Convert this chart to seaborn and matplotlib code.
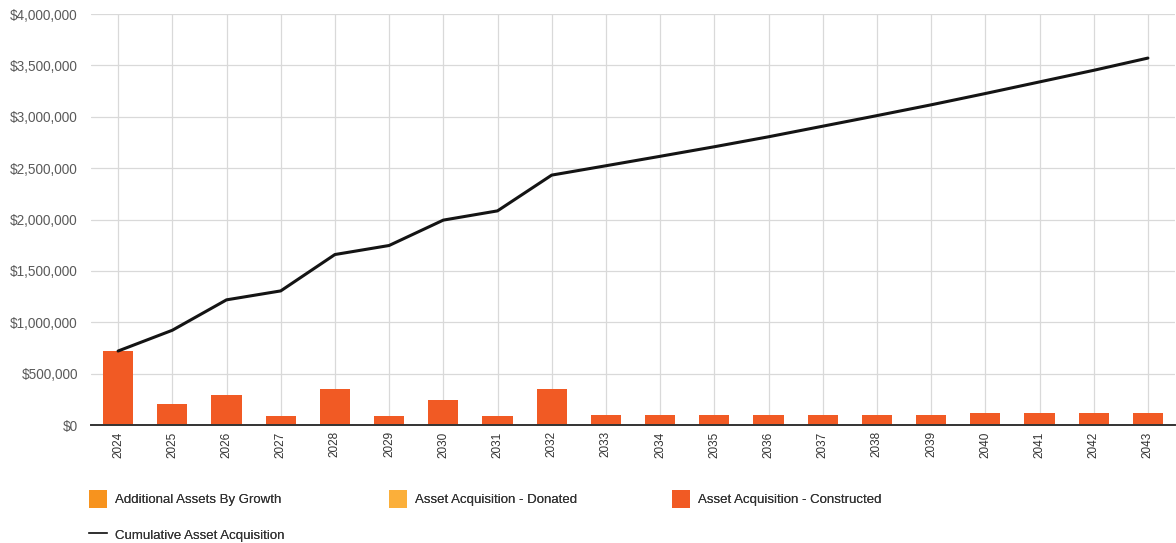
import numpy as np
import pandas as pd
import matplotlib
matplotlib.use("Agg")
import matplotlib.pyplot as plt
import seaborn as sns
from matplotlib.ticker import MultipleLocator, FuncFormatter
from matplotlib.patches import Patch
from matplotlib.lines import Line2D

# Asset acquisition by year
years = [str(y) for y in range(2024, 2044)]
growth = [0] * 20
donated = [0] * 20
constructed = [720000, 205000, 295000, 92000, 355000, 92000, 248000, 92000, 352000,
               95000, 95000, 95000, 102000, 102000, 102000, 102000,
               112000, 112000, 112000, 112000]
cumulative = [720000, 922000, 1218000, 1305000, 1659000, 1747000, 1994000, 2084000,
              2432000, 2523000, 2615000, 2708000, 2805000, 2908000, 3011000, 3116000,
              3226000, 3339000, 3452000, 3571000]

series_names = ["Additional Assets By Growth", "Asset Acquisition - Donated",
                "Asset Acquisition - Constructed"]
series_colors = ["#F7931E", "#FBAF3A", "#F15A24"]
line_name = "Cumulative Asset Acquisition"

sns.set_theme(style="white")
plt.rcParams["font.family"] = ["Liberation Sans", "DejaVu Sans"]

W, H = 1176, 543
fig = plt.figure(figsize=(W / 100, H / 100), dpi=100)
ax = fig.add_axes([91 / W, 118 / H, 1084 / W, 411 / H])

df = pd.DataFrame({
    "Year": years * 3,
    "Value": growth + donated + constructed,
    "Series": [series_names[0]] * 20 + [series_names[1]] * 20 + [series_names[2]] * 20,
})

sns.barplot(data=df, x="Year", y="Value", hue="Series", hue_order=series_names,
            palette=series_colors, dodge=False, width=0.56, saturation=1,
            linewidth=0, legend=False, ax=ax, zorder=2)

sns.lineplot(x=np.arange(len(years)), y=cumulative, color="#141414",
             linewidth=2.2, ax=ax, zorder=3)

ax.set_xlim(-0.5, len(years) - 0.5)
ax.set_ylim(0, 4000000)
ax.yaxis.set_major_locator(MultipleLocator(500000))
ax.yaxis.set_major_formatter(FuncFormatter(lambda v, p: f"${v:,.0f}"))
ax.set_xlabel("")
ax.set_ylabel("")

ax.grid(True, color="#d9d9d9", linewidth=0.9)
ax.set_axisbelow(True)
for s in ["top", "right", "left"]:
    ax.spines[s].set_visible(False)
ax.spines["bottom"].set_color("#333333")
ax.spines["bottom"].set_linewidth(1.4)
ax.spines["bottom"].set_zorder(4)

ax.tick_params(axis="x", rotation=90, length=4, width=1, color="#333333",
               labelsize=8.5, labelcolor="#333333", pad=0.5)
ax.tick_params(axis="y", length=0, labelsize=9.8, labelcolor="#5a5a5a", pad=9.5)

# Legend: three columns laid out below the plot
legend_style = dict(loc="upper left", frameon=False, borderpad=0, borderaxespad=0,
                    handlelength=1.36, handleheight=1.72, handletextpad=0.6,
                    labelspacing=1.36, fontsize=9.5, labelcolor="#333333")
columns = [
    (89, [Patch(facecolor=series_colors[0], edgecolor="none"),
          Line2D([0], [0], color="#333333", linewidth=1.3)],
     [series_names[0], line_name]),
    (389, [Patch(facecolor=series_colors[1], edgecolor="none")], [series_names[1]]),
    (672, [Patch(facecolor=series_colors[2], edgecolor="none")], [series_names[2]]),
]
for x0, hs, ls in columns:
    leg = fig.legend(hs, ls, bbox_to_anchor=(x0 / W, 1 - 490 / H), **legend_style)
    fig.add_artist(leg)

fig.savefig("out.png", dpi=100)
